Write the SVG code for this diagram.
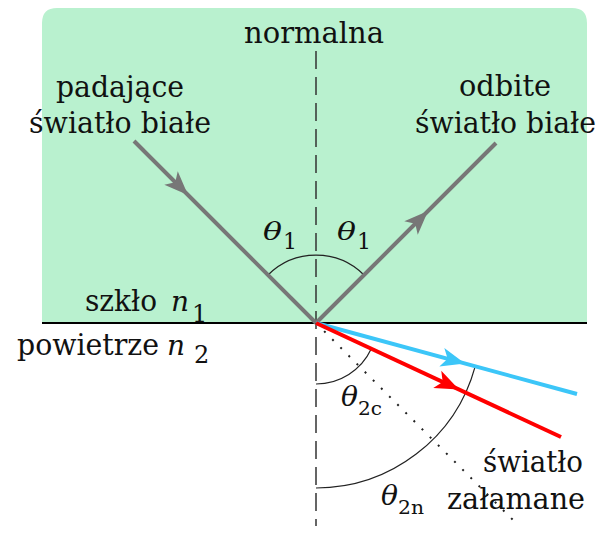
<svg xmlns="http://www.w3.org/2000/svg" width="600" height="533" viewBox="0 0 600 533">
  <style>
    .lbl { font-size: 30px; }
    .ray { fill: none; stroke-width: 4; stroke-linecap: butt; stroke-linejoin: miter; }
    .arc { fill: none; stroke: #222; stroke-width: 1.2; }
  </style>
  <defs>
    <path id="ah" d="M0,0 L-24,-9.5 L-18,0 L-24,9.5 Z"/>
  </defs>

  <g id="glass">
    <path d="M42,323 V23 Q42,8 57,8 H572 Q587,8 587,23 V323 Z" fill="#b9f1cf"/>
  </g>

  <g id="normal">
    <line x1="316" y1="51" x2="316" y2="526" stroke="#333" stroke-width="1.5" stroke-dasharray="18 8"/>
  </g>

  <g id="interface">
    <line x1="42" y1="323" x2="587" y2="323" stroke="#000" stroke-width="2"/>
  </g>

  <g id="extension">
    <line x1="316" y1="323" x2="517" y2="524" stroke="#222" stroke-width="2" stroke-dasharray="2 9.5"/>
  </g>

  <g id="angles">
    <path class="arc" d="M268,275 A68,68 0 0 1 364,275"/>
    <path class="arc" d="M316,384 A61,61 0 0 0 371.3,348.8"/>
    <path class="arc" d="M316,488 A165,165 0 0 0 475.2,366.3"/>
  </g>

  <g id="connectors">
    <path id="incident" class="ray" stroke="#777777" d="M134,141 L316,323"/>
    <use href="#ah" fill="#777777" transform="translate(188,195) rotate(45)"/>
    <path id="reflected" class="ray" stroke="#777777" d="M316,323 L496,143"/>
    <use href="#ah" fill="#777777" transform="translate(428,211) rotate(-45)"/>
    <path id="refracted-blue" class="ray" stroke="#3cc6f8" d="M316,323 L577,394"/>
    <use href="#ah" fill="#3cc6f8" transform="translate(465,363.5) rotate(15.2)"/>
    <path id="refracted-red" class="ray" stroke="#ff0000" d="M316,323 L561,437"/>
    <use href="#ah" fill="#ff0000" transform="translate(459,389.5) rotate(25)"/>
  </g>

  <g id="labels" font-family="DejaVu Serif, serif" fill="#111">
    <g id="label-normal">
      <text class="lbl" x="244" y="43" textLength="140" lengthAdjust="spacingAndGlyphs">normalna</text>
    </g>
    <g id="label-incident">
      <text class="lbl" x="56" y="97" textLength="128" lengthAdjust="spacingAndGlyphs">padające</text>
      <text class="lbl" x="29" y="133" textLength="182" lengthAdjust="spacingAndGlyphs">światło białe</text>
    </g>
    <g id="label-reflected">
      <text class="lbl" x="459" y="96" textLength="92" lengthAdjust="spacingAndGlyphs">odbite</text>
      <text class="lbl" x="415" y="133" textLength="181" lengthAdjust="spacingAndGlyphs">światło białe</text>
    </g>
    <g id="label-theta1-left">
      <text font-style="italic" x="263" y="240" font-size="25" textLength="19" lengthAdjust="spacingAndGlyphs">θ</text>
      <text x="283" y="249" font-size="22">1</text>
    </g>
    <g id="label-theta1-right">
      <text font-style="italic" x="337" y="240" font-size="25" textLength="19" lengthAdjust="spacingAndGlyphs">θ</text>
      <text x="357" y="249" font-size="22">1</text>
    </g>
    <g id="label-glass">
      <text class="lbl" x="85" y="311" textLength="72" lengthAdjust="spacingAndGlyphs">szkło</text>
      <text font-style="italic" x="171" y="311" font-size="28">n</text>
      <text x="192" y="322" font-size="24">1</text>
    </g>
    <g id="label-air">
      <text class="lbl" x="17" y="355" textLength="142" lengthAdjust="spacingAndGlyphs">powietrze</text>
      <text font-style="italic" x="167" y="355" font-size="28">n</text>
      <text x="194" y="363" font-size="24">2</text>
    </g>
    <g id="label-theta2c">
      <text font-style="italic" x="341" y="406" font-size="27" textLength="17" lengthAdjust="spacingAndGlyphs">θ</text>
      <text x="358" y="415" font-size="19" textLength="24" lengthAdjust="spacingAndGlyphs">2c</text>
    </g>
    <g id="label-theta2n">
      <text font-style="italic" x="381" y="505" font-size="27" textLength="17" lengthAdjust="spacingAndGlyphs">θ</text>
      <text x="398" y="514" font-size="19" textLength="26" lengthAdjust="spacingAndGlyphs">2n</text>
    </g>
    <g id="label-refracted">
      <text class="lbl" x="483" y="472" textLength="100" lengthAdjust="spacingAndGlyphs">światło</text>
      <text class="lbl" x="447" y="509" textLength="138" lengthAdjust="spacingAndGlyphs">załamane</text>
    </g>
  </g>
</svg>
